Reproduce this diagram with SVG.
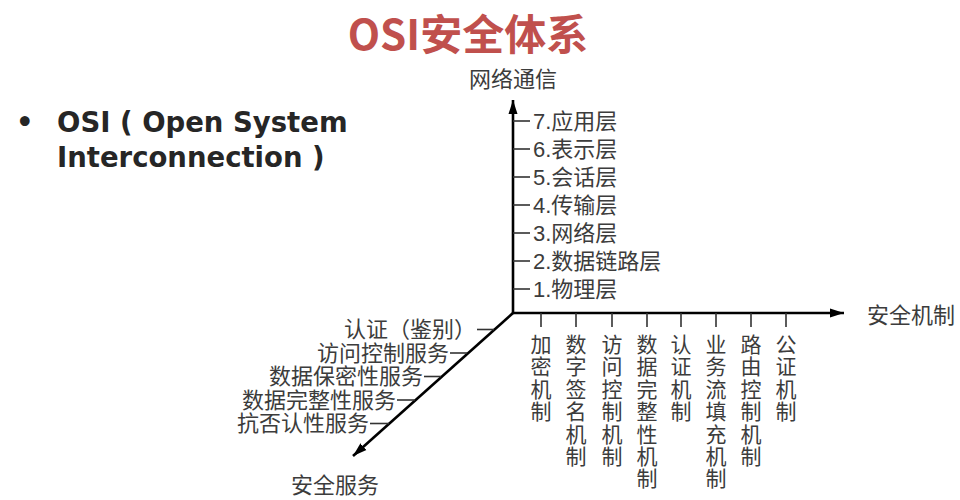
<svg xmlns="http://www.w3.org/2000/svg" width="960" height="500" viewBox="0 0 960 500">
<defs>
<style>
.t{font-family:"Liberation Sans","Noto Sans CJK SC",sans-serif;font-size:22px;fill:#3c3c3c}
.v{font-family:"Noto Sans CJK SC",sans-serif;font-size:21px;fill:#3c3c3c;text-anchor:middle}
.e{text-anchor:end}
.m{text-anchor:middle}
.ax{stroke:#000;stroke-width:2.6;fill:none}
.tk{stroke:#333;stroke-width:1.6;fill:none}
.title{font-family:"Noto Sans CJK SC",sans-serif;font-weight:bold;font-size:42px;fill:#c0504d;text-anchor:middle}
.intro{font-family:"DejaVu Sans","Open Sans",sans-serif;font-weight:bold;font-size:27.5px;fill:#262626}
</style>
<marker id="arr" markerUnits="userSpaceOnUse" markerWidth="16" markerHeight="12" refX="14" refY="6" orient="auto">
<path d="M0,1.5 L14,6 L0,10.5 Z" fill="#000"/>
</marker>
</defs>
<rect width="960" height="500" fill="#fff"/>
<g id="title"><text class="title" x="468" y="50">OSI安全体系</text></g>
<g id="intro">
<text class="intro" x="16" y="132">•</text>
<text class="intro" x="57" y="132">OSI ( Open System</text>
<text class="intro" x="57" y="167">Interconnection )</text>
</g>
<g id="connectors">
<line class="ax" x1="513" y1="313" x2="513" y2="100" marker-end="url(#arr)"/>
<line class="ax" x1="512" y1="313" x2="844" y2="313" marker-end="url(#arr)"/>
<line class="ax" x1="513" y1="313" x2="353" y2="456" marker-end="url(#arr)"/>
<g id="layer-ticks">
<line class="tk" x1="513" y1="121" x2="530" y2="121"/>
<line class="tk" x1="513" y1="149" x2="530" y2="149"/>
<line class="tk" x1="513" y1="177" x2="530" y2="177"/>
<line class="tk" x1="513" y1="205" x2="530" y2="205"/>
<line class="tk" x1="513" y1="233" x2="530" y2="233"/>
<line class="tk" x1="513" y1="261" x2="530" y2="261"/>
<line class="tk" x1="513" y1="289" x2="530" y2="289"/>
</g>
<g id="mechanism-ticks">
<line class="tk" x1="541" y1="313" x2="541" y2="327"/>
<line class="tk" x1="576" y1="313" x2="576" y2="327"/>
<line class="tk" x1="612" y1="313" x2="612" y2="327"/>
<line class="tk" x1="647" y1="313" x2="647" y2="327"/>
<line class="tk" x1="681" y1="313" x2="681" y2="327"/>
<line class="tk" x1="716" y1="313" x2="716" y2="327"/>
<line class="tk" x1="751" y1="313" x2="751" y2="327"/>
<line class="tk" x1="786" y1="313" x2="786" y2="327"/>
</g>
<g id="service-ticks">
<line class="tk" x1="477" y1="329.5" x2="494" y2="329.5"/>
<line class="tk" x1="450" y1="353" x2="467" y2="353"/>
<line class="tk" x1="424" y1="376.5" x2="441" y2="376.5"/>
<line class="tk" x1="397" y1="400" x2="415" y2="400"/>
<line class="tk" x1="370" y1="423.5" x2="389" y2="423.5"/>
</g>
</g>
<g id="axis-labels">
<text class="t m" x="513" y="87">网络通信</text>
<text class="t" x="867" y="323">安全机制</text>
<text class="t m" x="335" y="493">安全服务</text>
</g>
<g id="layers">
<text class="t" x="533" y="129">7.应用层</text>
<text class="t" x="533" y="157">6.表示层</text>
<text class="t" x="533" y="185">5.会话层</text>
<text class="t" x="533" y="213">4.传输层</text>
<text class="t" x="533" y="241">3.网络层</text>
<text class="t" x="533" y="269">2.数据链路层</text>
<text class="t" x="533" y="297">1.物理层</text>
</g>
<g id="services">
<text class="t e" x="476" y="337">认证（鉴别）</text>
<text class="t e" x="449" y="361">访问控制服务</text>
<text class="t e" x="423" y="384">数据保密性服务</text>
<text class="t e" x="396" y="408">数据完整性服务</text>
<text class="t e" x="369" y="431">抗否认性服务</text>
</g>
<g id="mechanisms">
<text class="v" y="352"><tspan x="541">加</tspan><tspan x="541" dy="22.4">密</tspan><tspan x="541" dy="22.4">机</tspan><tspan x="541" dy="22.4">制</tspan></text>
<text class="v" y="352"><tspan x="576">数</tspan><tspan x="576" dy="22.4">字</tspan><tspan x="576" dy="22.4">签</tspan><tspan x="576" dy="22.4">名</tspan><tspan x="576" dy="22.4">机</tspan><tspan x="576" dy="22.4">制</tspan></text>
<text class="v" y="352"><tspan x="612">访</tspan><tspan x="612" dy="22.4">问</tspan><tspan x="612" dy="22.4">控</tspan><tspan x="612" dy="22.4">制</tspan><tspan x="612" dy="22.4">机</tspan><tspan x="612" dy="22.4">制</tspan></text>
<text class="v" y="352"><tspan x="647">数</tspan><tspan x="647" dy="22.4">据</tspan><tspan x="647" dy="22.4">完</tspan><tspan x="647" dy="22.4">整</tspan><tspan x="647" dy="22.4">性</tspan><tspan x="647" dy="22.4">机</tspan><tspan x="647" dy="22.4">制</tspan></text>
<text class="v" y="352"><tspan x="681">认</tspan><tspan x="681" dy="22.4">证</tspan><tspan x="681" dy="22.4">机</tspan><tspan x="681" dy="22.4">制</tspan></text>
<text class="v" y="352"><tspan x="716">业</tspan><tspan x="716" dy="22.4">务</tspan><tspan x="716" dy="22.4">流</tspan><tspan x="716" dy="22.4">填</tspan><tspan x="716" dy="22.4">充</tspan><tspan x="716" dy="22.4">机</tspan><tspan x="716" dy="22.4">制</tspan></text>
<text class="v" y="352"><tspan x="751">路</tspan><tspan x="751" dy="22.4">由</tspan><tspan x="751" dy="22.4">控</tspan><tspan x="751" dy="22.4">制</tspan><tspan x="751" dy="22.4">机</tspan><tspan x="751" dy="22.4">制</tspan></text>
<text class="v" y="352"><tspan x="786">公</tspan><tspan x="786" dy="22.4">证</tspan><tspan x="786" dy="22.4">机</tspan><tspan x="786" dy="22.4">制</tspan></text>
</g>
</svg>
